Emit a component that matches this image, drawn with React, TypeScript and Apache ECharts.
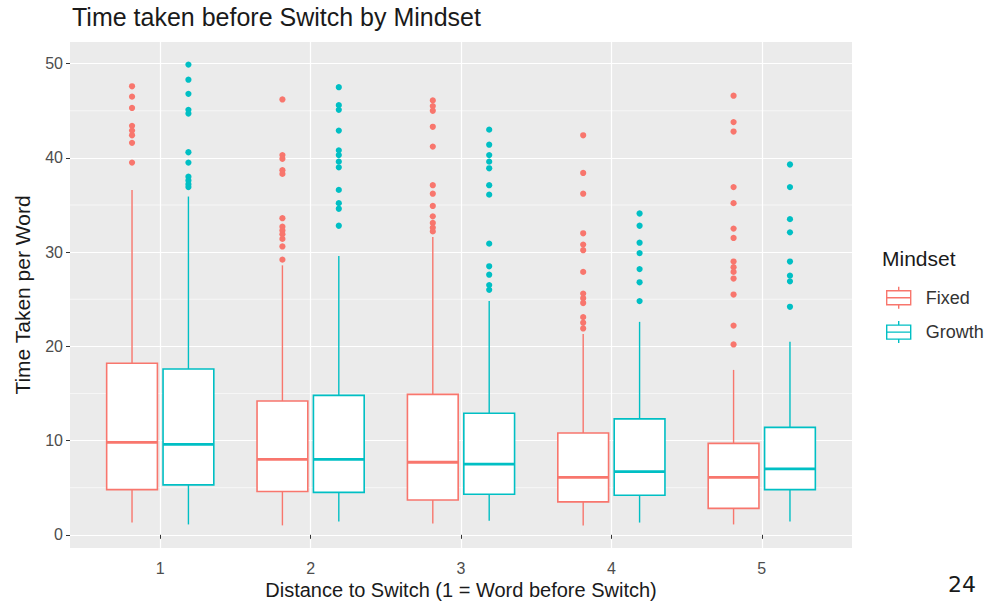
import React, { useEffect, useRef } from 'react';
import * as echarts from 'echarts';

// Distance-to-switch categories and the two mindset groups
const CATEGORIES = ['1', '2', '3', '4', '5'];
const Y_TICKS = [0, 10, 20, 30, 40, 50];
const Y_MINOR = [5, 15, 25, 35, 45];

// Box statistics per category: [lower whisker, Q1, median, Q3, upper whisker]
const FIXED_STATS = [
  [1.3, 4.8, 9.8, 18.2, 36.6],
  [1.0, 4.6, 8.0, 14.2, 28.6],
  [1.2, 3.7, 7.7, 14.9, 31.6],
  [1.0, 3.5, 6.1, 10.8, 21.3],
  [1.1, 2.8, 6.1, 9.7, 17.5],
];
const GROWTH_STATS = [
  [1.1, 5.3, 9.6, 17.6, 35.9],
  [1.4, 4.5, 8.0, 14.8, 29.6],
  [1.5, 4.3, 7.5, 12.9, 24.8],
  [1.3, 4.2, 6.7, 12.3, 22.6],
  [1.4, 4.8, 7.0, 11.4, 20.5],
];

// Outlying observations per category
const FIXED_OUTLIERS = [
  [47.6, 46.5, 45.3, 43.4, 42.9, 42.4, 41.6, 39.5],
  [46.2, 40.3, 39.9, 38.7, 38.3, 33.6, 32.7, 32.3, 31.9, 31.4, 30.6, 29.2],
  [46.1, 45.5, 45.0, 43.3, 41.2, 37.1, 36.2, 34.9, 33.8, 33.1, 32.6, 32.2],
  [42.4, 38.4, 36.2, 32.0, 30.8, 30.2, 27.9, 25.6, 25.1, 24.6, 23.1, 22.5, 21.9],
  [46.6, 43.8, 42.8, 36.9, 35.2, 32.5, 31.5, 29.0, 28.4, 27.9, 27.2, 25.5, 22.2, 20.2],
];
const GROWTH_OUTLIERS = [
  [49.9, 48.3, 46.8, 45.1, 44.7, 40.6, 39.5, 38.0, 37.6, 37.2, 36.9],
  [47.5, 45.6, 45.1, 42.9, 40.8, 40.3, 39.6, 39.0, 36.6, 35.2, 34.6, 32.8],
  [43.0, 41.4, 40.3, 39.6, 38.9, 37.1, 36.1, 30.9, 28.5, 27.6, 26.5, 26.0],
  [34.1, 32.8, 31.0, 29.9, 28.2, 26.8, 24.8],
  [39.3, 36.9, 33.5, 32.1, 29.0, 27.5, 26.9, 24.2],
];

const FIXED_COLOR = '#F8766D';
const GROWTH_COLOR = '#00BFC4';
const FONT = '"Liberation Sans", Arial, Helvetica, sans-serif';

const X_MIN = 0.4;
const X_MAX = 5.6;
const Y_MIN = -1.4;
const Y_MAX = 52.3;
const DODGE = 0.1875; // half the distance between the paired boxes, in category units
const BOX_WIDTH = 0.3375;

const LEGEND_ICON =
  'path://M14,0L14,4M2,4L26,4L26,18L2,18ZM2,11L26,11M14,18L14,22';

function boxData(stats: number[][]) {
  return stats.map((s, i) => [i + 1, ...s]);
}

function outlierData(groups: number[][]) {
  const out: number[][] = [];
  groups.forEach((vals, i) => vals.forEach((v) => out.push([i + 1, v])));
  return out;
}

function boxRenderer(side: number, color: string) {
  return (_params: any, api: any) => {
    const x = api.value(0);
    const low = api.value(1);
    const q1 = api.value(2);
    const med = api.value(3);
    const q3 = api.value(4);
    const high = api.value(5);
    const shift = api.size([DODGE, 0])[0] * side;
    const half = api.size([BOX_WIDTH / 2, 0])[0];
    const cx = api.coord([x, med])[0] + shift;
    const yLow = api.coord([x, low])[1];
    const yQ1 = api.coord([x, q1])[1];
    const yMed = api.coord([x, med])[1];
    const yQ3 = api.coord([x, q3])[1];
    const yHigh = api.coord([x, high])[1];
    const whisker = { stroke: color, lineWidth: 1.4 };
    return {
      type: 'group',
      children: [
        { type: 'line', shape: { x1: cx, y1: yHigh, x2: cx, y2: yQ3 }, style: whisker },
        { type: 'line', shape: { x1: cx, y1: yQ1, x2: cx, y2: yLow }, style: whisker },
        {
          type: 'rect',
          shape: { x: cx - half, y: yQ3, width: half * 2, height: yQ1 - yQ3 },
          style: { fill: '#ffffff', stroke: color, lineWidth: 1.6 },
        },
        {
          type: 'line',
          shape: { x1: cx - half, y1: yMed, x2: cx + half, y2: yMed },
          style: { stroke: color, lineWidth: 2.8 },
        },
      ],
    };
  };
}

function outlierRenderer(side: number, color: string) {
  return (_params: any, api: any) => {
    const p = api.coord([api.value(0), api.value(1)]);
    const shift = api.size([DODGE, 0])[0] * side;
    return {
      type: 'circle',
      shape: { cx: p[0] + shift, cy: p[1], r: 3.1 },
      style: { fill: color },
    };
  };
}

function minorGridRenderer(_params: any, api: any) {
  const v = api.value(1);
  const a = api.coord([X_MIN, v]);
  const b = api.coord([X_MAX, v]);
  return {
    type: 'line',
    shape: { x1: a[0], y1: a[1], x2: b[0], y2: b[1] },
    style: { stroke: '#ffffff', lineWidth: 0.6 },
  };
}

export default function App() {
  const ref = useRef<HTMLDivElement>(null);

  useEffect(() => {
    if (!ref.current) return;
    const chart = echarts.init(ref.current, null, { renderer: 'svg' });
    chart.setOption({
      animation: false,
      backgroundColor: '#ffffff',
      textStyle: { fontFamily: FONT },
      title: [
        {
          text: 'Time taken before Switch by Mindset',
          left: 72,
          top: 4,
          padding: 0,
          textStyle: { fontFamily: FONT, fontSize: 25, fontWeight: 'normal', color: '#1a1a1a' },
        },
        {
          text: 'Mindset',
          left: 882,
          top: 248,
          padding: 0,
          textStyle: { fontFamily: FONT, fontSize: 21, fontWeight: 'normal', color: '#1a1a1a' },
        },
      ],
      legend: {
        orient: 'vertical',
        left: 886,
        top: 286,
        padding: 0,
        itemWidth: 28,
        itemHeight: 22,
        itemGap: 11,
        textStyle: { fontFamily: FONT, fontSize: 18, color: '#333333', padding: [0, 0, 0, 8] },
        data: [
          {
            name: 'Fixed',
            icon: LEGEND_ICON,
            itemStyle: { color: '#ffffff', borderColor: FIXED_COLOR, borderWidth: 1.4 },
          },
          {
            name: 'Growth',
            icon: LEGEND_ICON,
            itemStyle: { color: '#ffffff', borderColor: GROWTH_COLOR, borderWidth: 1.4 },
          },
        ],
      },
      grid: {
        left: 70,
        top: 42,
        width: 782,
        height: 506,
        show: true,
        backgroundColor: '#EBEBEB',
        borderWidth: 0,
        containLabel: false,
        outerBoundsMode: 'none',
      },
      xAxis: {
        type: 'value',
        min: X_MIN,
        max: X_MAX,
        name: 'Distance to Switch (1 = Word before Switch)',
        nameLocation: 'middle',
        nameGap: 32,
        nameMoveOverlap: false,
        nameTextStyle: { fontFamily: FONT, fontSize: 20, lineHeight: 20, color: '#1a1a1a' },
        axisLine: { show: false },
        axisTick: {
          show: true,
          length: 4,
          customValues: CATEGORIES.map((_c, i) => i + 1),
          lineStyle: { color: '#333333', width: 1 },
        },
        axisLabel: {
          customValues: CATEGORIES.map((_c, i) => i + 1),
          formatter: (v: number) => CATEGORIES[Math.round(v) - 1] ?? '',
          margin: 11,
          fontFamily: FONT,
          fontSize: 16,
          lineHeight: 18,
          color: '#4D4D4D',
        },
        splitLine: { show: true, lineStyle: { color: '#ffffff', width: 1.2 } },
      },
      yAxis: {
        type: 'value',
        min: Y_MIN,
        max: Y_MAX,
        name: 'Time Taken per Word',
        nameLocation: 'middle',
        nameGap: 37,
        nameMoveOverlap: false,
        nameTextStyle: { fontFamily: FONT, fontSize: 21, color: '#1a1a1a' },
        axisLine: { show: false },
        axisTick: {
          show: true,
          length: 4,
          customValues: Y_TICKS,
          lineStyle: { color: '#333333', width: 1 },
        },
        axisLabel: {
          customValues: Y_TICKS,
          margin: 7,
          fontFamily: FONT,
          fontSize: 16,
          color: '#4D4D4D',
        },
        splitLine: { show: true, lineStyle: { color: '#ffffff', width: 1.2 } },
      },
      graphic: [
        {
          type: 'text',
          left: 948,
          top: 573,
          style: { text: '24', fontFamily: '"DejaVu Sans", Verdana, sans-serif', fontSize: 22, fill: '#1a1a1a' },
        },
      ],
      series: [
        {
          name: 'minor-grid',
          type: 'custom',
          z: 1,
          silent: true,
          renderItem: minorGridRenderer,
          data: Y_MINOR.map((v) => [X_MIN, v]),
        },
        {
          name: 'Fixed',
          type: 'custom',
          z: 3,
          itemStyle: { color: FIXED_COLOR },
          renderItem: boxRenderer(-1, FIXED_COLOR),
          data: boxData(FIXED_STATS),
        },
        {
          name: 'Growth',
          type: 'custom',
          z: 3,
          itemStyle: { color: GROWTH_COLOR },
          renderItem: boxRenderer(1, GROWTH_COLOR),
          data: boxData(GROWTH_STATS),
        },
        {
          name: 'Fixed',
          type: 'custom',
          z: 4,
          itemStyle: { color: FIXED_COLOR },
          renderItem: outlierRenderer(-1, FIXED_COLOR),
          data: outlierData(FIXED_OUTLIERS),
        },
        {
          name: 'Growth',
          type: 'custom',
          z: 4,
          itemStyle: { color: GROWTH_COLOR },
          renderItem: outlierRenderer(1, GROWTH_COLOR),
          data: outlierData(GROWTH_OUTLIERS),
        },
      ],
    });
    return () => chart.dispose();
  }, []);

  return (
    <div
      ref={ref}
      style={{ position: 'absolute', left: 0, top: 0, width: 988, height: 603, background: '#ffffff' }}
    />
  );
}
